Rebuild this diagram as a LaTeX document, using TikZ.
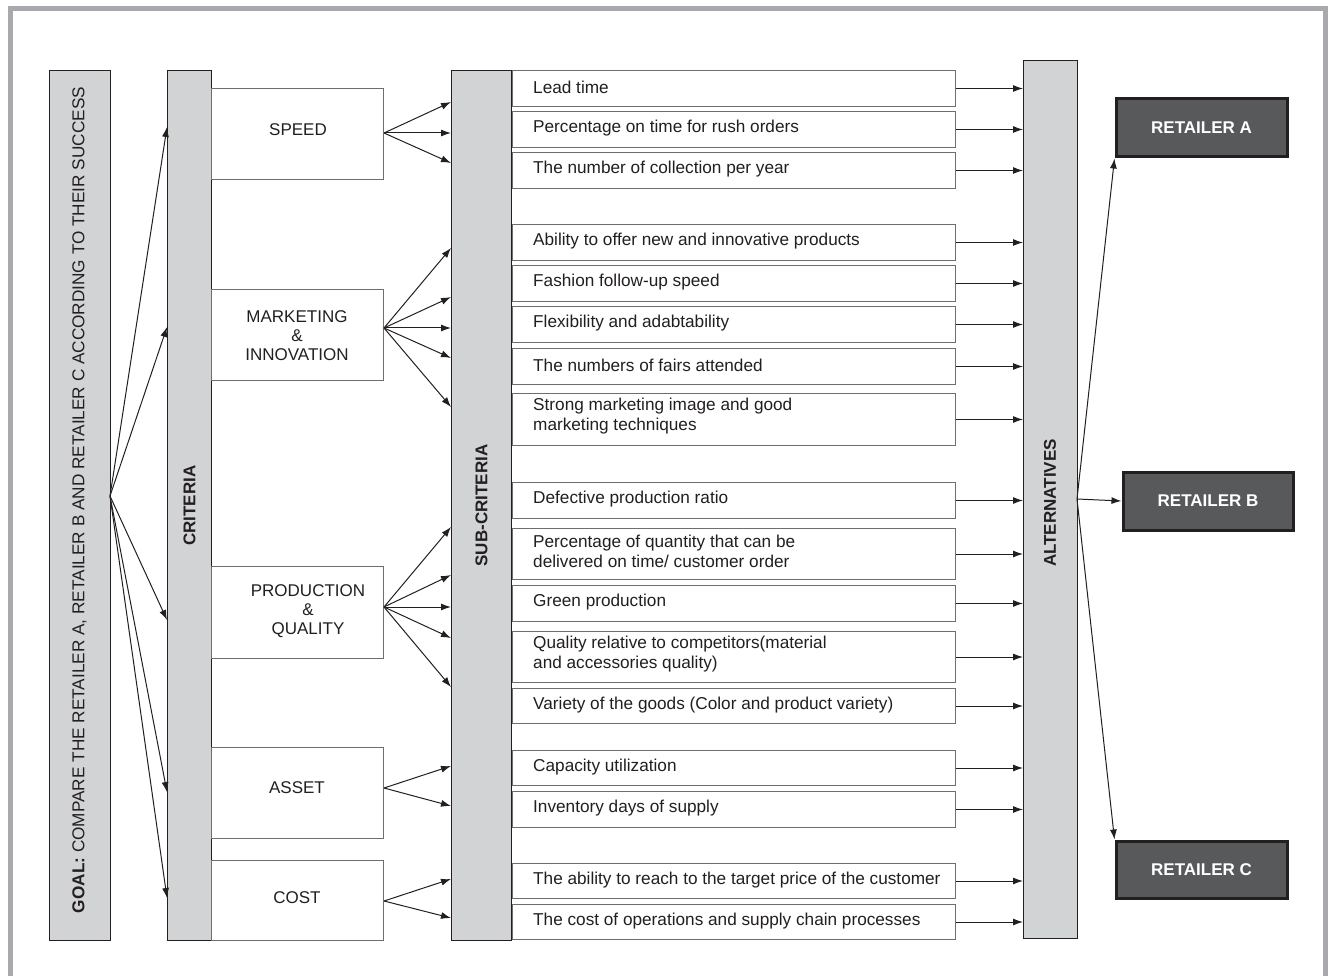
\documentclass[tikz,border=0pt]{standalone}
\usepackage{fontspec}
\setmainfont{Liberation Sans}
\usetikzlibrary{arrows.meta}
\definecolor{boxgray}{HTML}{D1D3D4}
\definecolor{framegray}{HTML}{A7A9AC}
\definecolor{ink}{HTML}{231F20}
\definecolor{darkfill}{HTML}{58595B}
\definecolor{edgegray}{HTML}{6D6E71}
\begin{document}
\begin{tikzpicture}[x=1pt,y=-1pt,
  font=\fontsize{17.2}{20}\selectfont,
  bar/.style={draw=ink, line width=1.1pt, fill=boxgray, inner sep=0pt, anchor=north west},
  vtext/.style={rotate=90, text=ink, inner sep=0pt},
  crit/.style={draw=edgegray, line width=1pt, fill=white, inner sep=0pt, anchor=north west, minimum width=172},
  ctext/.style={text=ink, align=center, inner sep=0pt, font=\fontsize{17}{19}\selectfont},
  subitem/.style={draw=edgegray, line width=1pt, fill=white, anchor=north west, minimum width=443, inner sep=0pt},
  subtext/.style={anchor=west, xshift=21pt, align=left, text=ink, inner sep=0pt},
  ret/.style={draw=ink, line width=3pt, fill=darkfill, text=white, font=\fontsize{17}{20}\selectfont\bfseries, inner sep=0pt, anchor=north west},
  arr/.style={-{Latex[length=10pt,width=7pt]}, line width=1pt, draw=ink}]
\useasboundingbox (0,0) rectangle (1328,976);
\draw[framegray, line width=5pt] (10.5,990) -- (10.5,8.5) -- (1325.5,8.5) -- (1325.5,990);

% columns
\node[bar, minimum width=61, minimum height=870] (goal) at (49,70) {};
\node[vtext] (goaltext) at (79.5,500) {\textbf{GOAL:} COMPARE THE RETAILER A, RETAILER B AND RETAILER C ACCORDING TO THEIR SUCCESS};
\node[bar, minimum width=44, minimum height=870] (crit) at (167,70) {};
\node[vtext, font=\fontsize{17}{20}\selectfont\bfseries] (crittext) at (crit.center) {CRITERIA};
\node[bar, minimum width=60, minimum height=870] (subc) at (451,70) {};
\node[vtext, font=\fontsize{17}{20}\selectfont\bfseries] (subctext) at (subc.center) {SUB-CRITERIA};
\node[bar, minimum width=54, minimum height=878] (alt) at (1023,60) {};
\node[vtext, font=\fontsize{17}{20}\selectfont\bfseries] (alttext) at (1050,503) {ALTERNATIVES};

% criteria boxes
\node[crit, minimum height=91] (speed) at (211,88) {};
\node[ctext] (speedtext) at (298,130) {SPEED};
\node[crit, minimum height=91] (mkt) at (211,289) {};
\node[ctext] (mkttext) at (297,336) {MARKETING\\\&\\INNOVATION};
\node[crit, minimum height=92] (prod) at (211,566) {};
\node[ctext] (prodtext) at (308,611) {PRODUCTION\\\&\\QUALITY};
\node[crit, minimum height=91] (asset) at (211,747) {};
\node[ctext] (assettext) at (297,788) {ASSET};
\node[crit, minimum height=80] (cost) at (211,860) {};
\node[ctext] (costtext) at (297,898) {COST};

% sub-criteria items
\node[subitem, minimum height=36] (s1) at (512,70) {};
\node[subitem, minimum height=36] (s2) at (512,111) {};
\node[subitem, minimum height=36] (s3) at (512,152) {};
\node[subitem, minimum height=36] (s4) at (512,224) {};
\node[subitem, minimum height=36] (s5) at (512,265) {};
\node[subitem, minimum height=36] (s6) at (512,306) {};
\node[subitem, minimum height=36] (s7) at (512,348) {};
\node[subitem, minimum height=52] (s8) at (512,393) {};
\node[subitem, minimum height=36] (s9) at (512,482) {};
\node[subitem, minimum height=51] (s10) at (512,528) {};
\node[subitem, minimum height=36] (s11) at (512,585) {};
\node[subitem, minimum height=51] (s12) at (512,631) {};
\node[subitem, minimum height=35] (s13) at (512,688) {};
\node[subitem, minimum height=35] (s14) at (512,750) {};
\node[subitem, minimum height=36] (s15) at (512,791) {};
\node[subitem, minimum height=35] (s16) at (512,863) {};
\node[subitem, minimum height=35] (s17) at (512,904) {};

\node[subtext] (t1) at ([yshift=1pt]s1.west) {Lead time};
\node[subtext] (t2) at ([yshift=1pt]s2.west) {Percentage on time for rush orders};
\node[subtext] (t3) at ([yshift=1pt]s3.west) {The number of collection per year};
\node[subtext] (t4) at ([yshift=1pt]s4.west) {Ability to offer new and innovative products};
\node[subtext] (t5) at ([yshift=1pt]s5.west) {Fashion follow-up speed};
\node[subtext] (t6) at ([yshift=1pt]s6.west) {Flexibility and adabtability};
\node[subtext] (t7) at ([yshift=1pt]s7.west) {The numbers of fairs attended};
\node[subtext] (t8) at ([yshift=3pt]s8.west) {Strong marketing image and good\\marketing techniques};
\node[subtext] (t9) at ([yshift=1pt]s9.west) {Defective production ratio};
\node[subtext] (t10) at ([yshift=3pt]s10.west) {Percentage of quantity that can be\\delivered on time/ customer order};
\node[subtext] (t11) at ([yshift=1pt]s11.west) {Green production};
\node[subtext] (t12) at ([yshift=3pt]s12.west) {Quality relative to competitors(material\\and accessories quality)};
\node[subtext] (t13) at ([yshift=1pt]s13.west) {Variety of the goods (Color and product variety)};
\node[subtext] (t14) at ([yshift=1pt]s14.west) {Capacity utilization};
\node[subtext] (t15) at ([yshift=1pt]s15.west) {Inventory days of supply};
\node[subtext] (t16) at ([yshift=1pt]s16.west) {The ability to reach to the target price of the customer};
\node[subtext] (t17) at ([yshift=1pt]s17.west) {The cost of operations and supply chain processes};

\foreach \i in {1,...,17} {
  \draw[arr] (s\i.east) -- (s\i.east -| alt.west);
}

% retailers
\node[ret, minimum width=171, minimum height=58] (ra) at (1114.5,97.5) {RETAILER A};
\node[ret, minimum width=170, minimum height=58] (rb) at (1121.5,470.5) {RETAILER B};
\node[ret, minimum width=171, minimum height=57] (rc) at (1114.5,839.5) {RETAILER C};
\coordinate (ao) at (1077,499);
\draw[arr] (ao) -- (ra.south west);
\draw[arr] (ao) -- (rb.west);
\draw[arr] (ao) -- (rc.north west);

% goal arrows
\coordinate (go) at (110,496);
\coordinate (g1) at (167,127);
\coordinate (g2) at (167,327);
\coordinate (g3) at (167,620);
\coordinate (g4) at (167,792);
\coordinate (g5) at (167,898);
\foreach \t in {g1,g2,g3,g4,g5} { \draw[arr] (go) -- (\t); }

% criteria -> sub-criteria arrows
\coordinate (os) at (384,133);
\foreach \y in {102,133,163} { \draw[arr] (os) -- (451,\y); }
\coordinate (om) at (384,328);
\foreach \y in {248,297,328,358,407} { \draw[arr] (om) -- (451,\y); }
\coordinate (op) at (384,607);
\foreach \y in {527,575,607,638,687} { \draw[arr] (op) -- (451,\y); }
\coordinate (oa) at (384,788);
\foreach \y in {766,806} { \draw[arr] (oa) -- (451,\y); }
\coordinate (oc) at (384,901);
\foreach \y in {879,918} { \draw[arr] (oc) -- (451,\y); }
\end{tikzpicture}
\end{document}
